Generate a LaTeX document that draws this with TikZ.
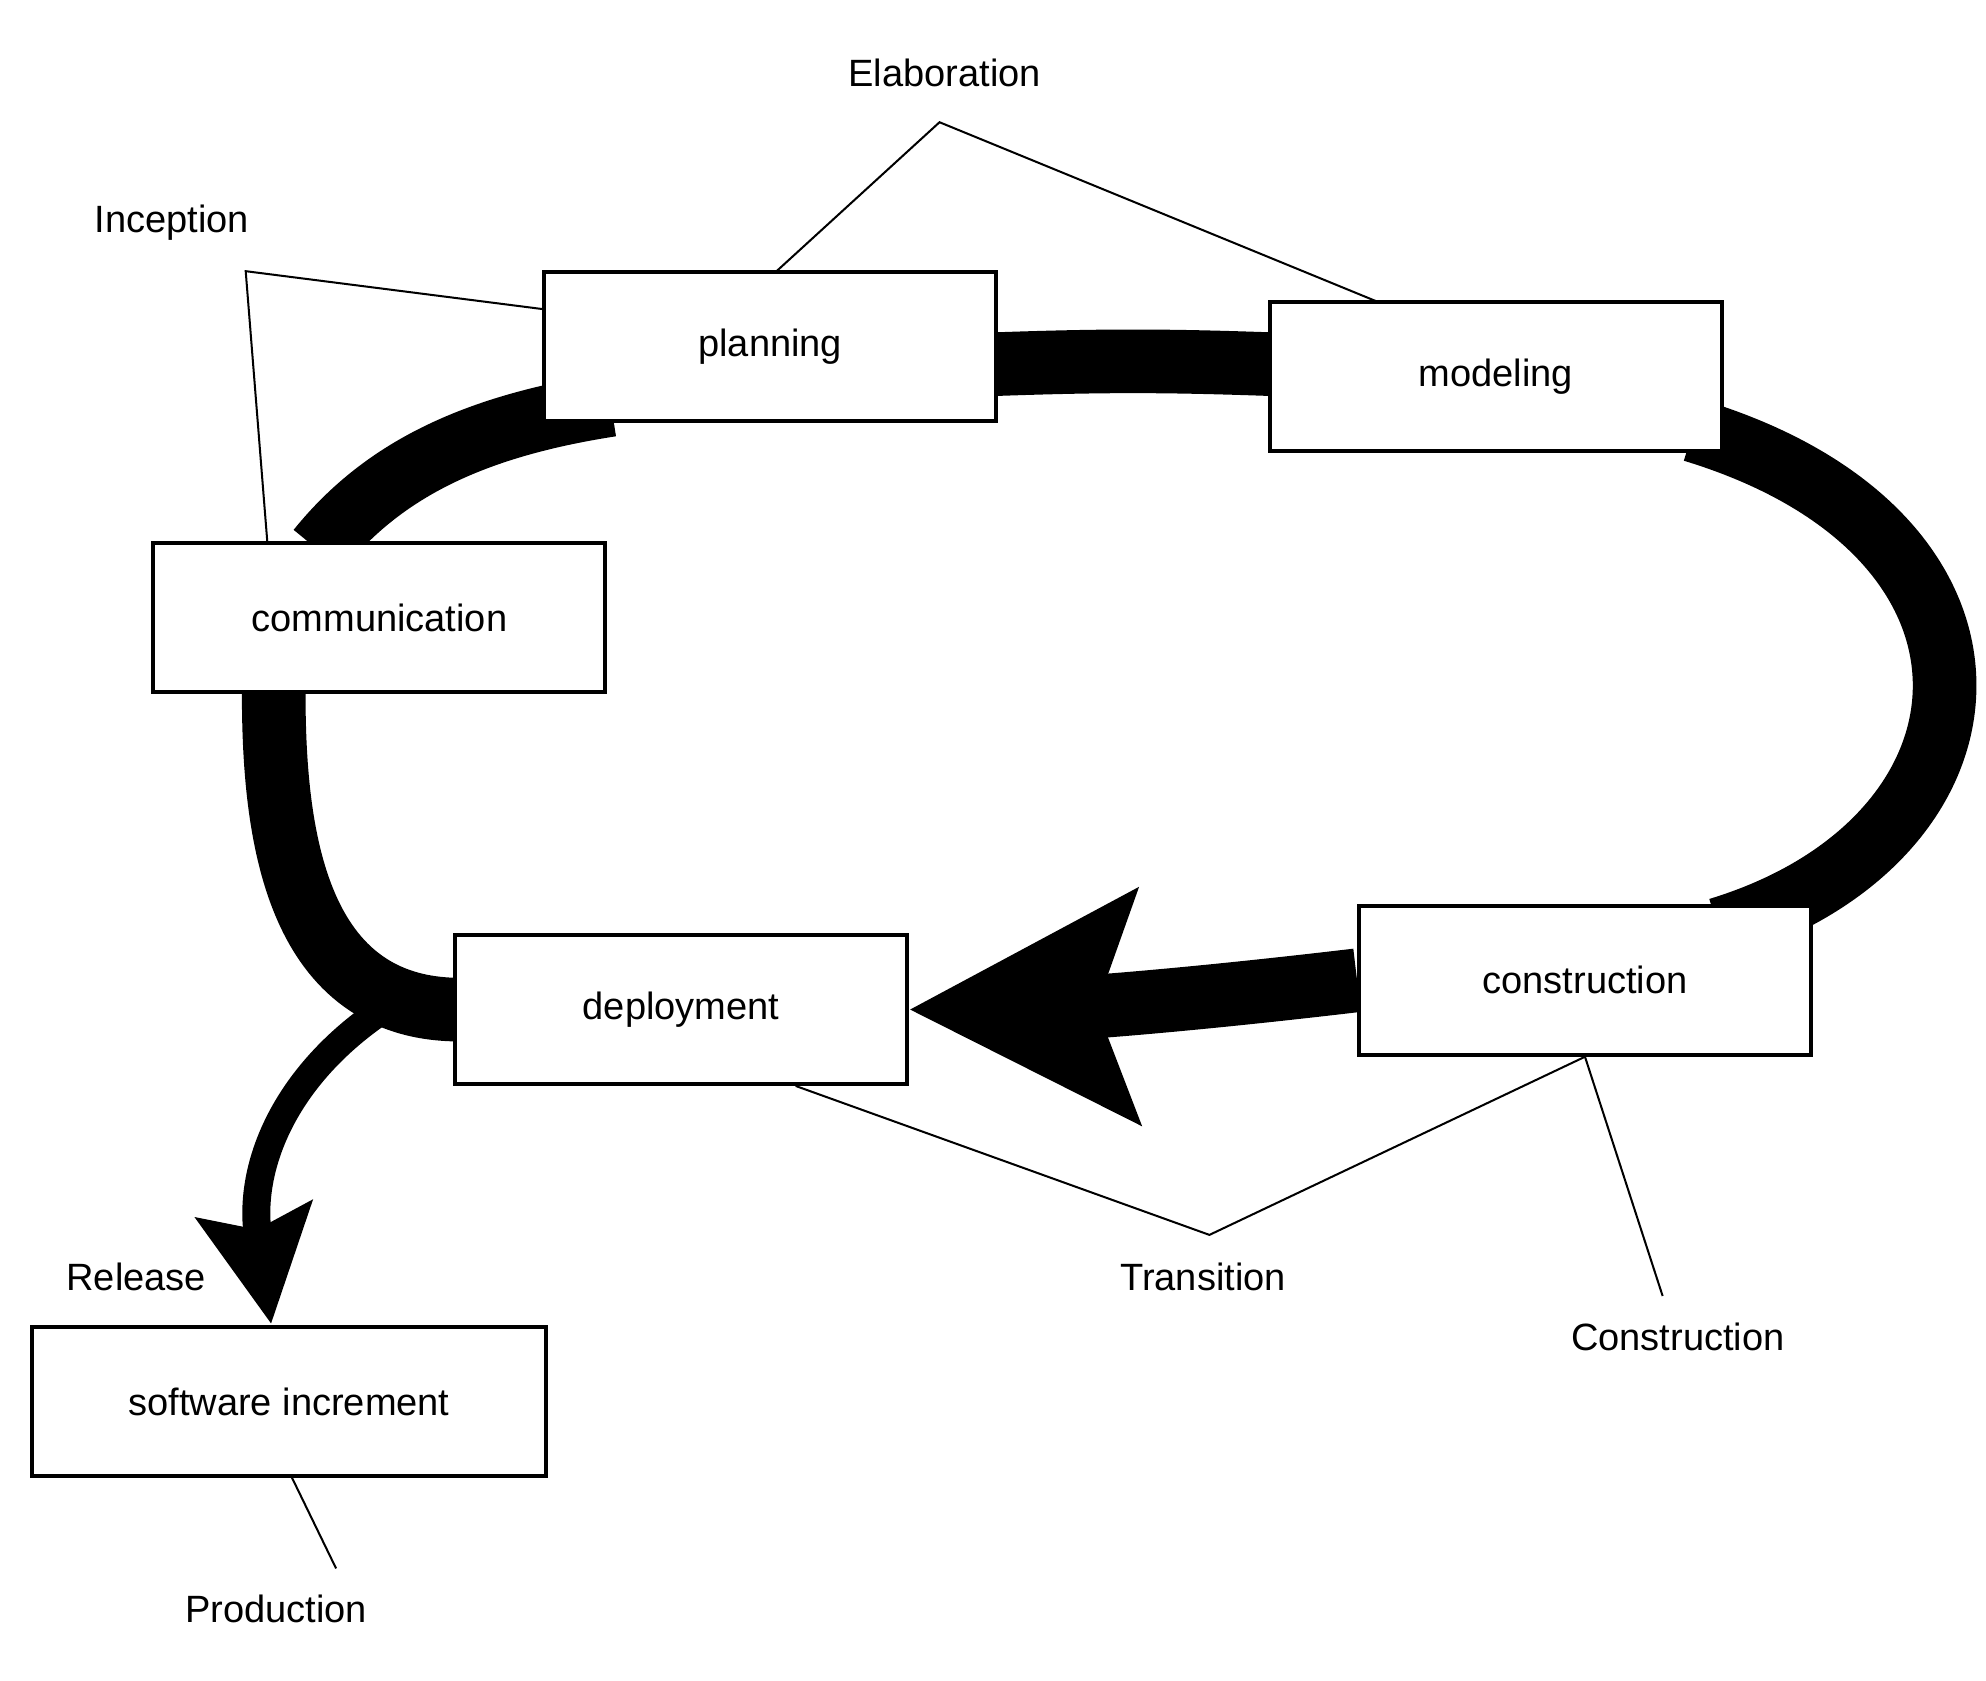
\documentclass[tikz,border=0pt]{standalone}
\usepackage{fontspec}
\setmainfont{Liberation Sans}
\usepackage{tikz}
\usetikzlibrary{positioning,arrows.meta}

\begin{document}
\begin{tikzpicture}[
  x=0.02cm, y=-0.02cm,
  phase/.style={draw, line width=1.8pt, fill=white, minimum width=7.1cm, minimum height=2.34cm,
                font=\fontsize{17}{20}\selectfont},
  phasetext/.style={font=\fontsize{17}{20}\selectfont},
  band/.style={line width=1cm},
  lead/.style={line width=0.9pt},
  every node/.style={inner sep=0pt}
]
\useasboundingbox (0,0) rectangle (1560,1320);

% --- Bands behind the boxes ---
\coordinate (plR) at (783,286);
\coordinate (moL) at (997,286);
\coordinate (moB) at (1330,338);
\coordinate (coT) at (1350,730);
\coordinate (deL) at (357,793);
\coordinate (cmB) at (215,544);
\coordinate (cmT) at (250,432);
\coordinate (plB) at (480,318);
\coordinate (rel) at (295,797);
\coordinate (tip) at (213,1040);

\draw[band] (plR) to[bend left=2] (moL);
\draw[band] (moB) .. controls (1600,420) and (1580,660) .. (coT);
\draw[band] (deL) .. controls (230,790) and (215,650) .. (cmB);
\draw[band] (cmT) .. controls (300,370) and (370,335) .. (plB);

% --- Boxes ---
\node[phase] (plan) at (605,272) {planning};
\node[phase] (model) at (1175,296) {modeling};
\node[phase] (comm) at (298,485) {communication};
\node[phase] (depl) at (535,793) {deployment};
\node[phase] (cons) at (1245,770) {construction};
\node[phase, minimum width=8.08cm] (soft) at (227,1101) {software increment};

% --- Big arrow into deployment ---
\draw[band, -{Stealth[length=3.56cm,width=3.6cm,inset=0.62cm]}]
  (cons.west) to[bend left=3] (depl.east);

% --- Release arrow ---
\draw[line width=0.44cm, -{Stealth[length=1.8cm,width=1.8cm,inset=0.3cm]}]
  (rel) .. controls (220,850) and (195,920) .. (tip);

% --- Phase labels ---
\node[phasetext] (inc) at (135,175) {Inception};
\node[phasetext] (ela) at (742,57) {Elaboration};
\node[phasetext] (tra) at (945,1003) {Transition};
\node[phasetext] (con) at (1318,1050) {Construction};
\node[phasetext] (rls) at (107,1003) {Release};
\node[phasetext] (prd) at (217,1264) {Production};

\coordinate (incV) at (193,213);
\coordinate (elaV) at (738,96);
\coordinate (traV) at (950,970);
\coordinate (conV) at (1306,1018);
\coordinate (prdV) at (264,1232);

\draw[lead] (428,243) -- (incV) -- (210,426);
\draw[lead] (610,213) -- (elaV) -- (1082,237);
\draw[lead] (625,853) -- (traV) -- (cons.south);
\draw[lead] (cons.south) -- (conV);
\draw[lead] (229,1160) -- (prdV);

\end{tikzpicture}
\end{document}
